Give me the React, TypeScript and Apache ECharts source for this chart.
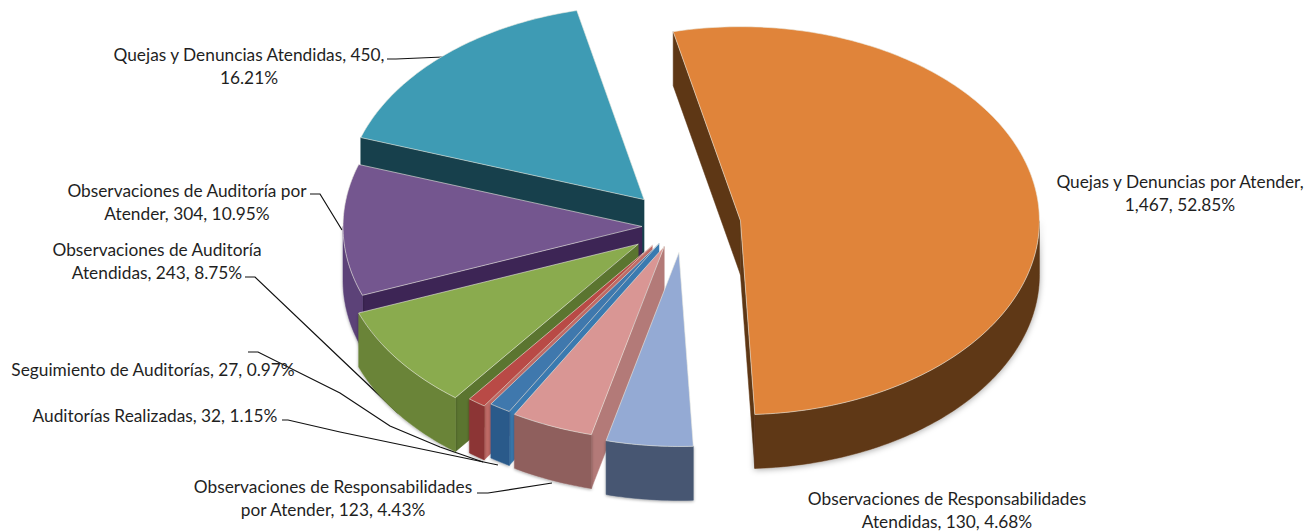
import React, { useEffect, useRef } from "react";
import * as echarts from "echarts";

// ---- data, clockwise from the first slice ----
const categories = [
  "Quejas y Denuncias por Atender",
  "Observaciones de Responsabilidades Atendidas",
  "Observaciones de Responsabilidades por Atender",
  "Auditorías Realizadas",
  "Seguimiento de Auditorías",
  "Observaciones de Auditoría Atendidas",
  "Observaciones de Auditoría por Atender",
  "Quejas y Denuncias Atendidas",
];
const values = [1467, 130, 123, 32, 27, 243, 304, 450];
const labelLines = [
  ["Quejas y Denuncias por Atender,", "1,467, 52.85%"],
  ["Observaciones de Responsabilidades", "Atendidas, 130, 4.68%"],
  ["Observaciones de Responsabilidades", "por Atender, 123, 4.43%"],
  ["Auditorías Realizadas, 32, 1.15%"],
  ["Seguimiento de Auditorías, 27, 0.97%"],
  ["Observaciones de Auditoría", "Atendidas, 243, 8.75%"],
  ["Observaciones de Auditoría por", "Atender, 304, 10.95%"],
  ["Quejas y Denuncias Atendidas, 450,", "16.21%"],
];

// ---- styling and layout ----
const topColors = ["#e0843a", "#94aad4", "#d99694", "#3f78ad", "#b94a46", "#8aab4e", "#74568f", "#3e9bb4"];
const wallColors = ["#5e3715", "#465672", "#8f5f5d", "#2a5a8a", "#8c3634", "#6b8438", "#5b4278", "#17404c"];
const faceColors = ["#5e3715", "#6f84a8", "#b37a78", "#3a7ab0", "#c06a66", "#5b7530", "#3d2555", "#17404c"];
const explode = [60, 41, 34, 32, 37, 47, 39, 55];
const nudgeX = [0, 2, -4, -5, -7, -5, 0, 0];
const paintOrder = [0, 7, 6, 5, 4, 3, 2, 1];
const START_DEG = -13;
const CX = 681;
const CY = 226;
const RX = 299;
const RY = 194;
const DEPTH = 54;
const FONT = "Lato";
const labelCenters = [
  [1180, 181],
  [947, 498],
  [333, 486],
  [155, 415],
  [153, 369],
  [157, 249],
  [187, 190],
  [249, 54],
];
const LINE_H = 23.5;
const leaders = [
  [[387, 59], [396, 59], [443, 57]],
  [[310, 194], [320, 194], [342, 230]],
  [[245, 277], [255, 277], [340, 358], [398, 413]],
  [[248, 352], [258, 352], [340, 393], [390, 426], [440, 447], [483, 462]],
  [[282, 420], [288, 420], [340, 432], [498, 465]],
  [[477, 493], [488, 493], [552, 483]],
];

const total = values.reduce((a, b) => a + b, 0);
const starts: number[] = [];
values.reduce((acc, v) => {
  starts.push(acc);
  return acc + (v / total) * 360;
}, START_DEG);

function rim(deg: number, ax: number, ay: number, dy = 0): number[] {
  const r = (deg * Math.PI) / 180;
  return [ax + RX * Math.sin(r), ay - RY * Math.cos(r) + dy];
}

function arcPoints(a0: number, a1: number, ax: number, ay: number, dy = 0): number[][] {
  const n = Math.max(2, Math.ceil(Math.abs(a1 - a0)));
  const pts: number[][] = [];
  for (let i = 0; i <= n; i++) pts.push(rim(a0 + ((a1 - a0) * i) / n, ax, ay, dy));
  return pts;
}

function renderSlice(params: any) {
  const i = paintOrder[params.dataIndex];
  const a0 = starts[i];
  const a1 = a0 + (values[i] / total) * 360;
  const mid = (((a0 + a1) / 2) * Math.PI) / 180;
  const ax = CX + explode[i] * Math.sin(mid) + nudgeX[i];
  const ay = CY - explode[i] * (RY / RX) * Math.cos(mid);
  const children: any[] = [];
  const poly = (points: number[][], fill: any, extra: any = {}) => ({
    type: "polygon",
    shape: { points },
    style: { fill, stroke: extra.stroke ?? fill, lineWidth: extra.lineWidth ?? 0.5, ...extra.style },
    silent: true,
  });
  const isFront = (deg: number) => -Math.cos((deg * Math.PI) / 180) > 0;
  // cut faces
  const rimA0 = rim(a0, ax, ay);
  const rimA1 = rim(a1, ax, ay);
  if (isFront(a0 - 90)) {
    children.push(poly([[ax, ay], rimA0, [rimA0[0], rimA0[1] + DEPTH], [ax, ay + DEPTH]], faceColors[i]));
  }
  if (isFront(a1 + 90)) {
    children.push(poly([[ax, ay], rimA1, [rimA1[0], rimA1[1] + DEPTH], [ax, ay + DEPTH]], faceColors[i]));
  }
  // outer wall (front half only)
  const w0 = Math.max(a0, 90);
  const w1 = Math.min(a1, 270);
  if (w1 > w0) {
    const upper = arcPoints(w0, w1, ax, ay);
    const lower = arcPoints(w1, w0, ax, ay, DEPTH);
    children.push(
      poly(upper.concat(lower), wallColors[i], {
        style: { shadowBlur: i === 0 ? 6 : 3, shadowColor: "rgba(0,0,0,0.35)", shadowOffsetY: 1 },
      })
    );
  }
  // top face
  const top = [[ax, ay] as number[]].concat(arcPoints(a0, a1, ax, ay));
  children.push(
    poly(top, topColors[i], {
      stroke: "rgba(235,235,225,0.6)",
      lineWidth: 1,
    })
  );
  return { type: "group", children };
}

export default function App() {
  const ref = useRef<HTMLDivElement>(null);
  useEffect(() => {
    document.body.style.margin = "0";
    const chart = echarts.init(ref.current!, undefined, { renderer: "svg" });
    const textEls: any[] = [];
    labelLines.forEach((lines, i) => {
      lines.forEach((t, j) => {
        textEls.push({
          type: "text",
          x: labelCenters[i][0],
          y: labelCenters[i][1] + j * LINE_H,
          silent: true,
          style: {
            text: t,
            fill: "#1f1f1f",
            font: `17.3px ${FONT}`,
            textAlign: "center",
            textVerticalAlign: "middle",
          },
        });
      });
    });
    const lineEls = leaders.map((pts) => ({
      type: "polyline",
      shape: { points: pts },
      silent: true,
      style: { stroke: "#111", lineWidth: 1.2, fill: "none" },
    }));
    chart.setOption({
      animation: false,
      backgroundColor: "#fff",
      series: [
        {
          type: "custom",
          coordinateSystem: "none",
          renderItem: renderSlice,
          data: paintOrder.map((i) => ({ name: categories[i], value: values[i] })),
          silent: true,
          z: 1,
        },
      ],
      graphic: { elements: [...lineEls, ...textEls] },
    });
    return () => chart.dispose();
  }, []);
  return <div ref={ref} style={{ position: "absolute", left: 0, top: 0, width: 1308, height: 531 }} />;
}
